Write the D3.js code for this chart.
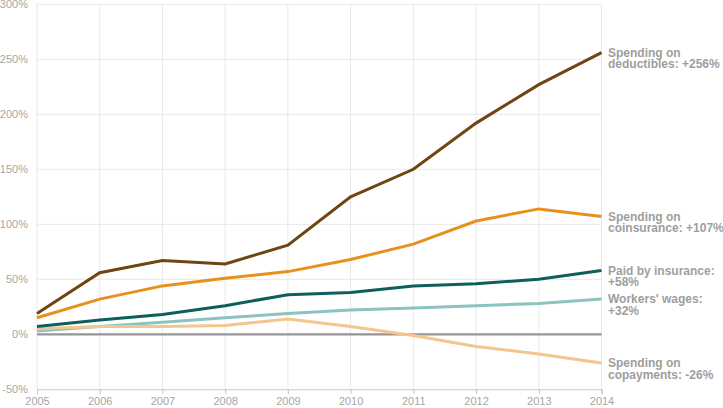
<!DOCTYPE html>
<html>
<head>
<meta charset="utf-8">
<script src="https://cdn.jsdelivr.net/npm/d3@7"></script>
<style>
html,body{margin:0;padding:0;background:#fff;}
svg{display:block;font-family:"Liberation Sans",Arial,Helvetica,sans-serif;}
</style>
</head>
<body>
<svg id="chart" width="723" height="408"></svg>
<script>
const years = [2005, 2006, 2007, 2008, 2009, 2010, 2011, 2012, 2013, 2014];
const yTicks = [-50, 0, 50, 100, 150, 200, 250, 300];
const deductibles = [19, 56, 67, 64, 81, 125, 150, 192, 227, 256];
const coinsurance = [15, 32, 44, 51, 57, 68, 82, 103, 114, 107];
const paidByInsurance = [7, 13, 18, 26, 36, 38, 44, 46, 50, 58];
const workersWages = [3, 7, 11, 15, 19, 22, 24, 26, 28, 32];
const copayments = [5, 7, 7, 8, 14, 7, -1, -11, -18, -26];

const series = [
  {name: "wages", values: workersWages, color: "#8cc3bf", label: ["Workers' wages:", "+32%"]},
  {name: "copay", values: copayments, color: "#f5c58e", label: ["Spending on", "copayments: -26%"]},
  {name: "paid", values: paidByInsurance, color: "#0d5f5b", label: ["Paid by insurance:", "+58%"]},
  {name: "coins", values: coinsurance, color: "#e8901c", label: ["Spending on", "coinsurance: +107%"]},
  {name: "deduct", values: deductibles, color: "#6f4511", label: ["Spending on", "deductibles: +256%"]}
];

const svg = d3.select("#chart");
const x = d3.scaleLinear().domain([2005, 2014]).range([37, 601.5]);
const y = d3.scaleLinear().domain([-50, 300]).range([389.3, 4.3]);

// gridlines
svg.append("g").selectAll("line.v").data(years).join("line")
  .attr("x1", d => x(d)).attr("x2", d => x(d))
  .attr("y1", y(300)).attr("y2", y(-50))
  .attr("stroke", "#e8e8e8").attr("stroke-width", 1);
svg.append("g").selectAll("line.h").data(yTicks.filter(d => d !== 0 && d !== -50)).join("line")
  .attr("x1", x(2005)).attr("x2", x(2014))
  .attr("y1", d => y(d)).attr("y2", d => y(d))
  .attr("stroke", "#e8e8e8").attr("stroke-width", 1);

// y labels
svg.append("g").selectAll("text").data(yTicks).join("text")
  .attr("x", 28).attr("y", d => y(d)).attr("dy", "0.35em")
  .attr("text-anchor", "end").attr("font-size", 11).attr("fill", "#a6a6a6")
  .text(d => d + "%");

// x axis
const xAxis = d3.axisBottom(x).tickValues(years).tickFormat(d3.format("d")).tickSize(5).tickPadding(3);
const gx = svg.append("g").attr("transform", `translate(0,${y(-50)})`).call(xAxis);
gx.select(".domain").attr("stroke", "#c8c8c8");
gx.selectAll(".tick line").attr("stroke", "#c8c8c8");
gx.selectAll(".tick text").attr("fill", "#a6a6a6").attr("font-size", 11)
  .attr("font-family", "Liberation Sans, Arial, sans-serif");

// zero line
svg.append("line").attr("x1", x(2005)).attr("x2", x(2014))
  .attr("y1", y(0)).attr("y2", y(0)).attr("stroke", "#959595").attr("stroke-width", 2.2);

const line = d3.line().x((d, i) => x(years[i])).y(d => y(d));
svg.append("g").selectAll("path").data(series).join("path")
  .attr("d", d => line(d.values))
  .attr("fill", "none").attr("stroke", d => d.color).attr("stroke-width", 3)
  .attr("stroke-linejoin", "miter");

// end labels
const lab = svg.append("g").selectAll("text").data(series).join("text")
  .attr("x", 608).attr("y", d => y(d.values[d.values.length - 1]))
  .attr("font-size", 12).attr("font-weight", "bold").attr("fill", "#9e9e9e");
lab.selectAll("tspan").data(d => d.label).join("tspan")
  .attr("x", 608).attr("dy", (d, i) => i === 0 ? "0.35em" : "0.95em").text(d => d);
</script>
</body>
</html>
